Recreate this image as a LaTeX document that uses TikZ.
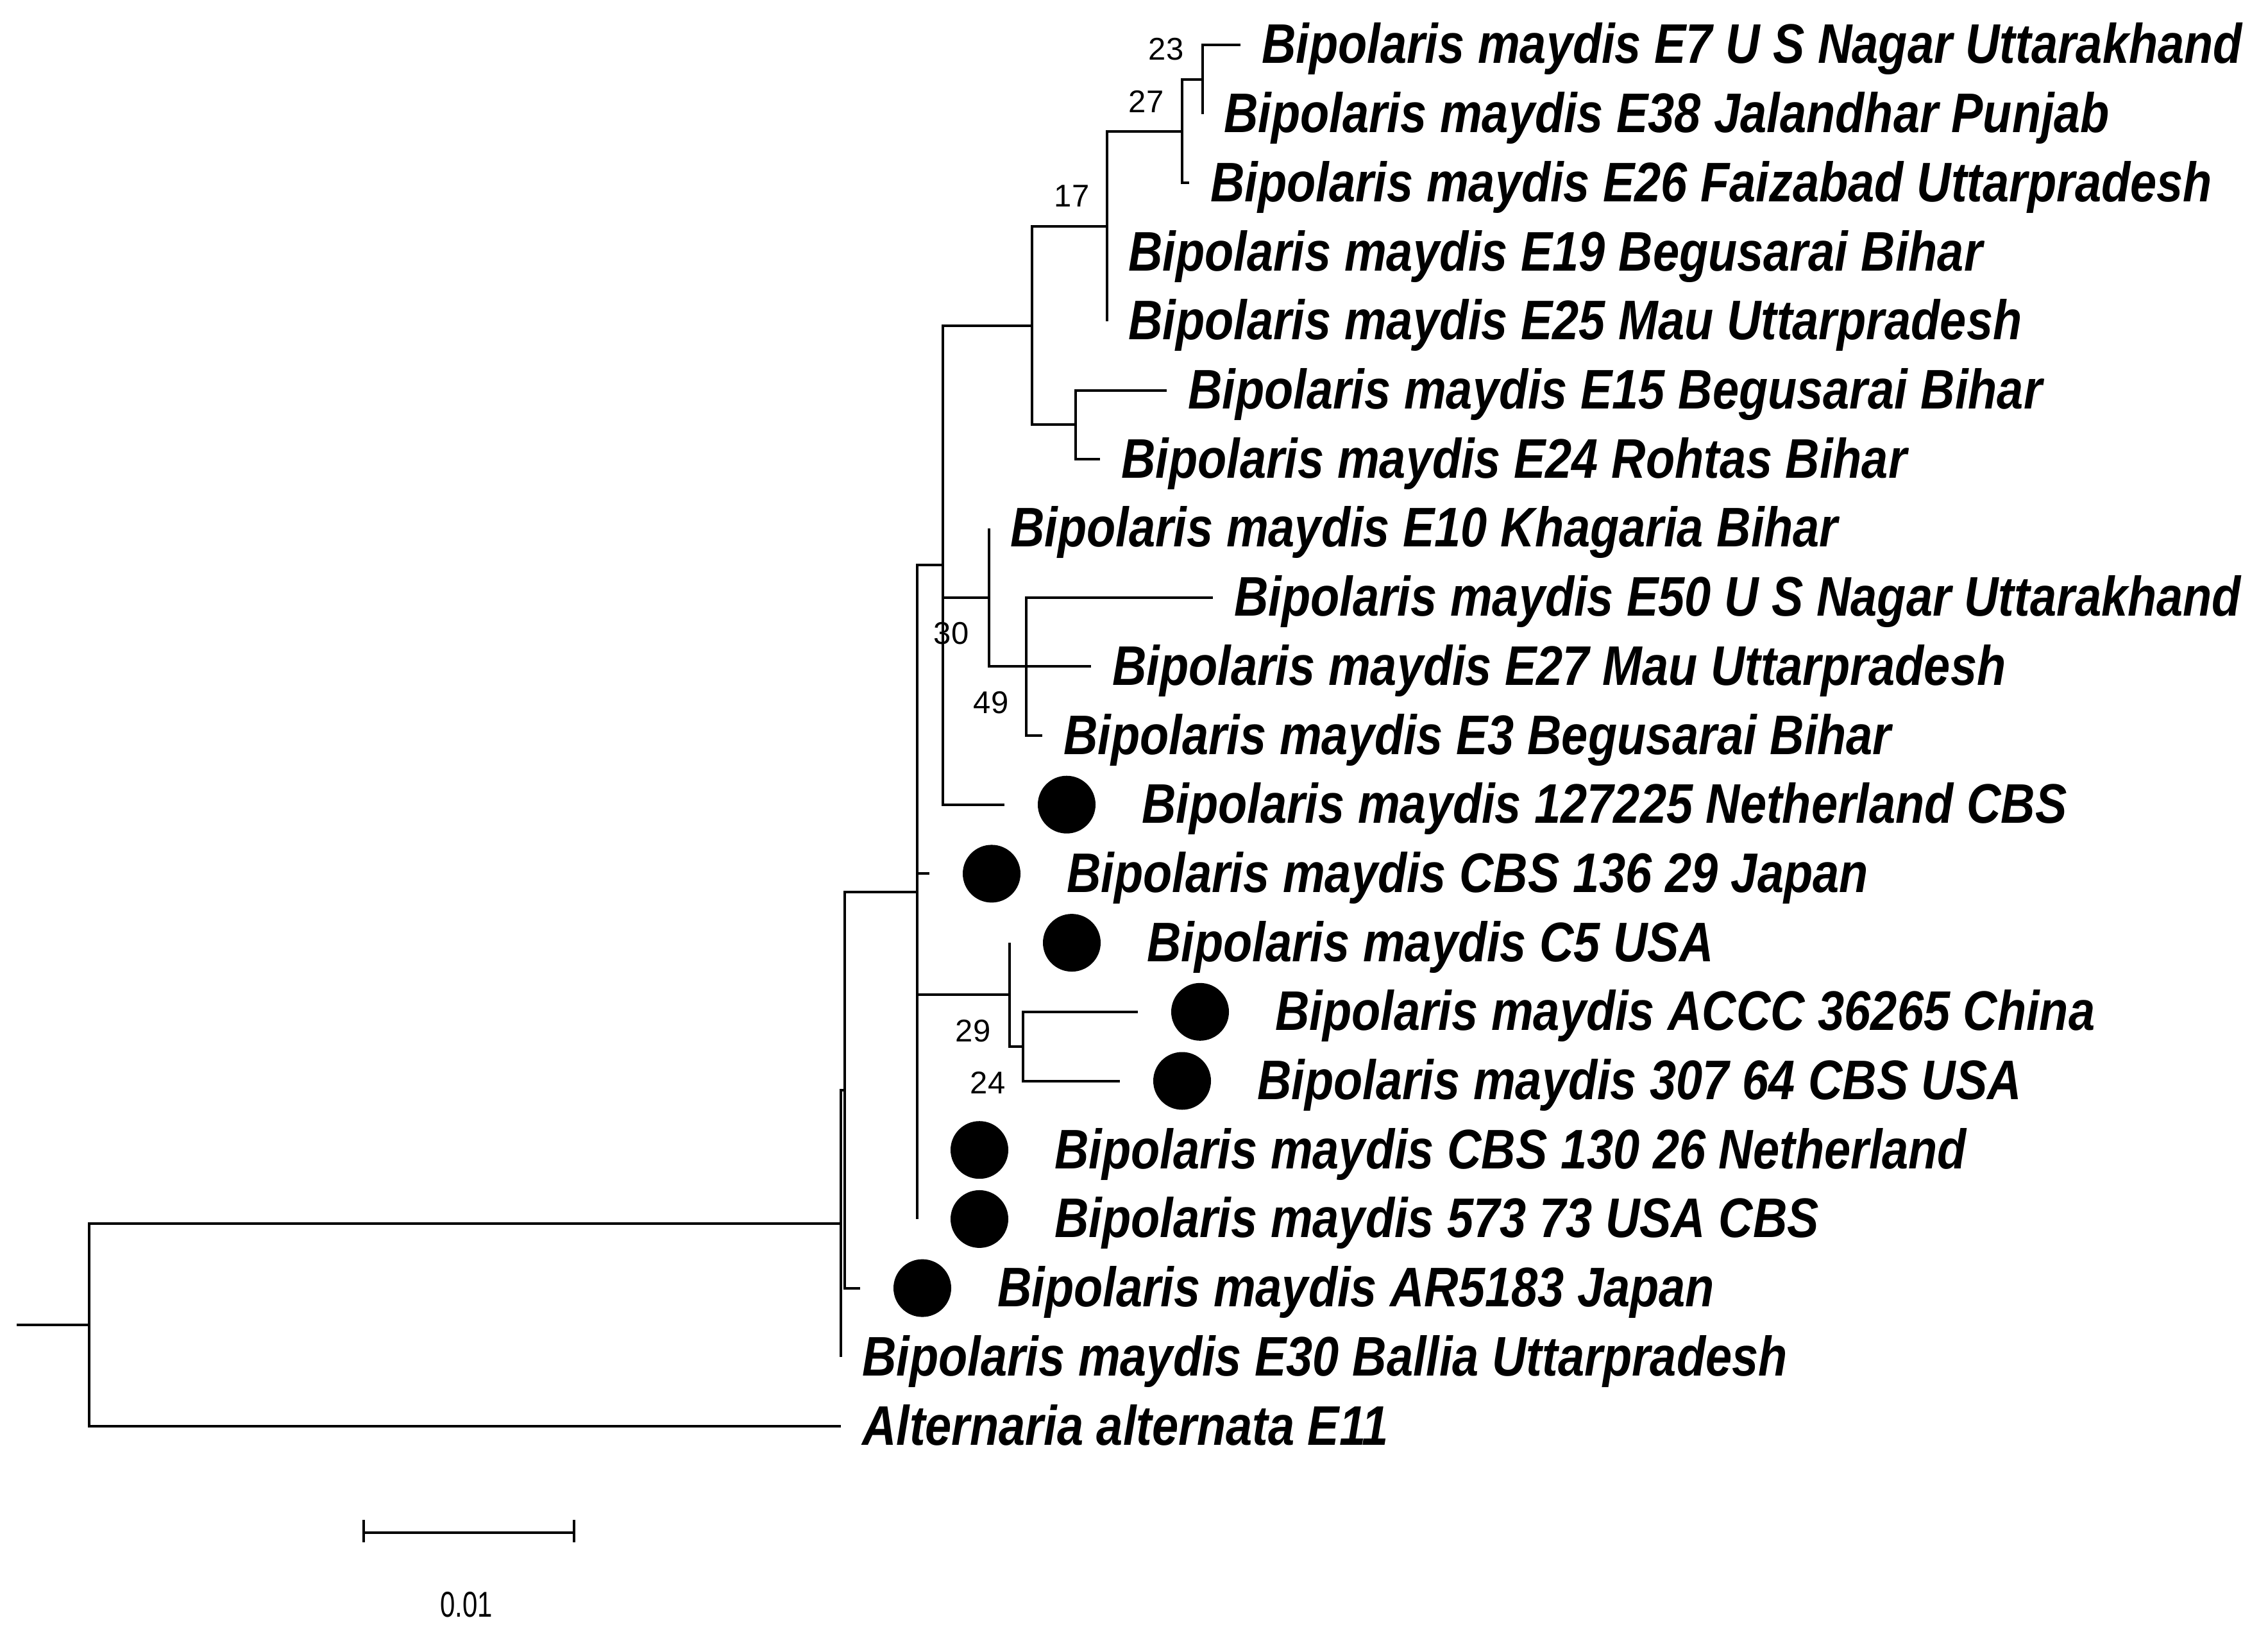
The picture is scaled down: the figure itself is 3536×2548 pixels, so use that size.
\documentclass[tikz,border=0pt]{standalone}
\usepackage{fontspec}
\setmainfont{Liberation Sans}
\newfontfamily\labfam[FakeStretch=0.85]{Liberation Sans}
\newfontfamily\bsfam{Liberation Sans}
\newfontfamily\sbfam[FakeStretch=0.75]{Liberation Sans}
\newcommand\mylabfont{\labfam\bfseries\itshape\fontsize{87}{100}\selectfont}
\newcommand\mybsfont{\bsfam\fontsize{49}{56}\selectfont}
\newcommand\mysbfont{\sbfam\fontsize{56}{64}\selectfont}
\begin{document}
\begin{tikzpicture}[x=1pt,y=-1pt,
  br/.style={line width=4pt},
  lab/.style={anchor=base west, inner sep=0pt, font=\mylabfont},
  dot/.style={circle, fill=black, minimum size=90pt, inner sep=0pt},
  bs/.style={inner sep=0pt, font=\mybsfont},
  sb/.style={line width=3.5pt}]
\useasboundingbox (0,0) rectangle (3536,2548);
% internal nodes
\coordinate (stub) at (26,2066);
\coordinate (root) at (139,2066);
\coordinate (R1) at (1311,1908);
\coordinate (R2) at (1317,1699.8);
\coordinate (D) at (1430,1391);
\coordinate (C) at (1470,881.1);
\coordinate (A) at (1609,507.5);
\coordinate (N17) at (1726,352.7);
\coordinate (N27) at (1843,204.6);
\coordinate (N23) at (1875,123.85);
\coordinate (B) at (1677,662.35);
\coordinate (E) at (1542,931.6);
\coordinate (F) at (1600,1039.3);
\coordinate (G) at (1574,1550.9);
\coordinate (H) at (1595,1631.65);
% leaves
\coordinate (l0) at (1934,70);
\coordinate (l1) at (1875,177.7);
\coordinate (l2) at (1854,285.4);
\coordinate (l3) at (1726,393.1);
\coordinate (l4) at (1726,500.8);
\coordinate (l5) at (1819,608.5);
\coordinate (l6) at (1715,716.2);
\coordinate (l7) at (1542,823.9);
\coordinate (l8) at (1891,931.6);
\coordinate (l9) at (1701,1039.3);
\coordinate (l10) at (1625,1147);
\coordinate (l11) at (1566,1254.7);
\coordinate (l12) at (1449,1362.4);
\coordinate (l13) at (1574,1470.1);
\coordinate (l14) at (1774,1577.8);
\coordinate (l15) at (1746,1685.5);
\coordinate (l16) at (1430,1793.2);
\coordinate (l17) at (1430,1900.9);
\coordinate (l18) at (1341,2008.6);
\coordinate (l19) at (1311,2116.3);
\coordinate (l20) at (1311,2224);
% branches
\draw[br] (stub) -- (root);
\draw[br] (root) |- (R1);
\draw[br] (root) |- (l20);
\draw[br] (R1) |- (R2);
\draw[br] (R1) |- (l19);
\draw[br] (R2) |- (D);
\draw[br] (R2) |- (l18);
\draw[br] (D) |- (C);
\draw[br] (D) |- (l12);
\draw[br] (D) |- (G);
\draw[br] (D) |- (l16);
\draw[br] (D) |- (l17);
\draw[br] (C) |- (A);
\draw[br] (C) |- (E);
\draw[br] (C) |- (l11);
\draw[br] (A) |- (N17);
\draw[br] (A) |- (B);
\draw[br] (N17) |- (N27);
\draw[br] (N17) |- (l3);
\draw[br] (N17) |- (l4);
\draw[br] (N27) |- (N23);
\draw[br] (N27) |- (l2);
\draw[br] (N23) |- (l0);
\draw[br] (N23) |- (l1);
\draw[br] (B) |- (l5);
\draw[br] (B) |- (l6);
\draw[br] (E) |- (l7);
\draw[br] (E) |- (F);
\draw[br] (F) |- (l8);
\draw[br] (F) |- (l9);
\draw[br] (F) |- (l10);
\draw[br] (G) |- (l13);
\draw[br] (G) |- (H);
\draw[br] (H) |- (l14);
\draw[br] (H) |- (l15);
% markers
\node[dot] (c11) at (1663,1254.7) {};
\node[dot] (c12) at (1546,1362.4) {};
\node[dot] (c13) at (1671,1470.1) {};
\node[dot] (c14) at (1871,1577.8) {};
\node[dot] (c15) at (1843,1685.5) {};
\node[dot] (c16) at (1527,1793.2) {};
\node[dot] (c17) at (1527,1900.9) {};
\node[dot] (c18) at (1438,2008.6) {};
% labels
\node[lab] (t0) at (1967,99) {Bipolaris maydis E7 U S Nagar Uttarakhand};
\node[lab] (t1) at (1908,206.7) {Bipolaris maydis E38 Jalandhar Punjab};
\node[lab] (t2) at (1887,314.4) {Bipolaris maydis E26 Faizabad Uttarpradesh};
\node[lab] (t3) at (1759,422.1) {Bipolaris maydis E19 Begusarai Bihar};
\node[lab] (t4) at (1759,529.8) {Bipolaris maydis E25 Mau Uttarpradesh};
\node[lab] (t5) at (1852,637.5) {Bipolaris maydis E15 Begusarai Bihar};
\node[lab] (t6) at (1748,745.2) {Bipolaris maydis E24 Rohtas Bihar};
\node[lab] (t7) at (1575,852.9) {Bipolaris maydis E10 Khagaria Bihar};
\node[lab] (t8) at (1924,960.6) {Bipolaris maydis E50 U S Nagar Uttarakhand};
\node[lab] (t9) at (1734,1068.3) {Bipolaris maydis E27 Mau Uttarpradesh};
\node[lab] (t10) at (1658,1176) {Bipolaris maydis E3 Begusarai Bihar};
\node[lab] (t11) at (1780,1283.7) {Bipolaris maydis 127225 Netherland CBS};
\node[lab] (t12) at (1663,1391.4) {Bipolaris maydis CBS 136 29 Japan};
\node[lab] (t13) at (1788,1499.1) {Bipolaris maydis C5 USA};
\node[lab] (t14) at (1988,1606.8) {Bipolaris maydis ACCC 36265 China};
\node[lab] (t15) at (1960,1714.5) {Bipolaris maydis 307 64 CBS USA};
\node[lab] (t16) at (1644,1822.2) {Bipolaris maydis CBS 130 26 Netherland};
\node[lab] (t17) at (1644,1929.9) {Bipolaris maydis 573 73 USA CBS};
\node[lab] (t18) at (1555,2037.6) {Bipolaris maydis AR5183 Japan};
\node[lab] (t19) at (1344,2145.3) {Bipolaris maydis E30 Ballia Uttarpradesh};
\node[lab] (t20) at (1344,2253) {Alternaria alternata E11};
% bootstrap values
\node[bs] (b23) at (1818,77) {23};
\node[bs] (b27) at (1787,158) {27};
\node[bs] (b17) at (1671,306) {17};
\node[bs] (b30) at (1483,988) {30};
\node[bs] (b49) at (1545,1096) {49};
\node[bs] (b29) at (1517,1608) {29};
\node[bs] (b24) at (1540,1688) {24};
% scale bar
\coordinate (s1) at (567,2390);
\coordinate (s2) at (895,2390);
\draw[sb] (s1) -- (s2);
\draw[sb] ([yshift=20pt]s1) -- ([yshift=-15pt]s1);
\draw[sb] ([yshift=20pt]s2) -- ([yshift=-15pt]s2);
\node[inner sep=0pt, font=\mysbfont] (sbl) at (727,2502) {0.01};
\end{tikzpicture}
\end{document}
